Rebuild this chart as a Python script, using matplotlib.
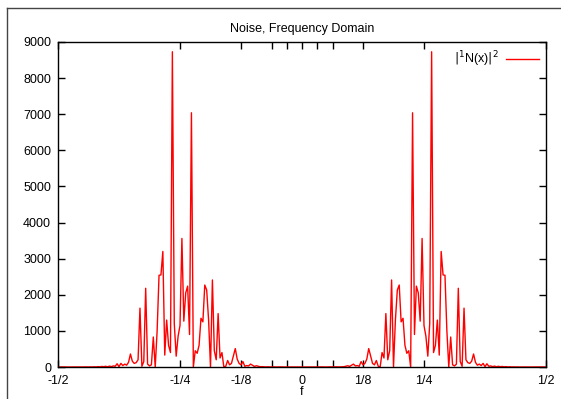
import numpy as np
import matplotlib
matplotlib.use("Agg")
import matplotlib.pyplot as plt
from matplotlib.lines import Line2D

# Power spectrum |N(f)|^2 for f = k/256, k = 0..128 (positive half; spectrum of real noise is symmetric)
power_pos = [
    0, 0, 1, 0, 2, 1, 0, 1, 2, 0,
    1, 3, 0, 2, 1, 4, 2, 3, 5, 2,
    5, 10, 8, 20, 35, 15, 50, 80, 30, 40,
    20, 150, 60, 100, 220, 510, 300, 100, 60, 180,
    20, 0, 400, 250, 1480, 200, 450, 2410, 0, 1300,
    2130, 2270, 1250, 1350, 600, 380, 450, 0, 7040, 900,
    2240, 2050, 1270, 3560, 1150, 850, 300, 1200, 8730, 400,
    600, 1300, 330, 3200, 2550, 2540, 1000, 0, 830, 60,
    30, 80, 2180, 150, 20, 1630, 200, 120, 100, 160,
    360, 130, 50, 80, 40, 100, 10, 90, 20, 30,
    10, 25, 5, 20, 8, 15, 5, 10, 3, 6,
    2, 4, 1, 3, 0, 2, 1, 0, 2, 1,
    0, 1, 0, 2, 0, 1, 0, 1, 0,
]
N_FFT = 256
k_pos = np.arange(len(power_pos))
freq = np.concatenate([-k_pos[:0:-1], k_pos]) / N_FFT
power = np.concatenate([np.array(power_pos)[:0:-1], power_pos])

xtick_vals = [-1/2, -1/4, -1/8, -1/16, -1/32, 0, 1/32, 1/16, 1/8, 1/4, 1/2]
xtick_labels = ["-1/2", "-1/4", "-1/8", "", "", "0", "", "", "1/8", "1/4", "1/2"]
ytick_vals = [0, 1000, 2000, 3000, 4000, 5000, 6000, 7000, 8000, 9000]

plt.rcParams['font.family'] = ['Liberation Sans', 'DejaVu Sans']
plt.rcParams['font.size'] = 9

fig = plt.figure(figsize=(5.61, 3.99), dpi=100)
ax = fig.add_axes([58/561, 1-367/399, (546-58)/561, (367-42)/399])

ax.plot(freq, power, color='#ff0000', lw=1.0, label=r'$|^{1}$N(x)$|^{2}$')
ax.set_xlim(-0.5, 0.5)
ax.set_ylim(0, 9000)
ax.set_xticks(xtick_vals)
ax.set_xticklabels(xtick_labels)
ax.set_yticks(ytick_vals)
ax.tick_params(direction='in', length=5, width=1, top=True, right=True,
               labelsize=9, colors='black')
ax.tick_params(axis='x', pad=6)
ax.tick_params(axis='y', pad=5)
for s in ax.spines.values():
    s.set_linewidth(1.0)
    s.set_color('black')

ax.set_title("Noise, Frequency Domain", fontsize=9, pad=7)
ax.set_xlabel("f", fontsize=9, labelpad=-1)

leg = ax.legend(loc='upper right', frameon=False, fontsize=9, handlelength=2.6,
                borderaxespad=0.2, handletextpad=0.6, markerfirst=False)

# outer frame (left and top edges visible)
fig.add_artist(Line2D([7/561, 7/561], [0, 1-8/399], transform=fig.transFigure, color='#444444', lw=1))
fig.add_artist(Line2D([7/561, 1], [1-8/399, 1-8/399], transform=fig.transFigure, color='#444444', lw=1))

fig.savefig("out.png", dpi=100)
